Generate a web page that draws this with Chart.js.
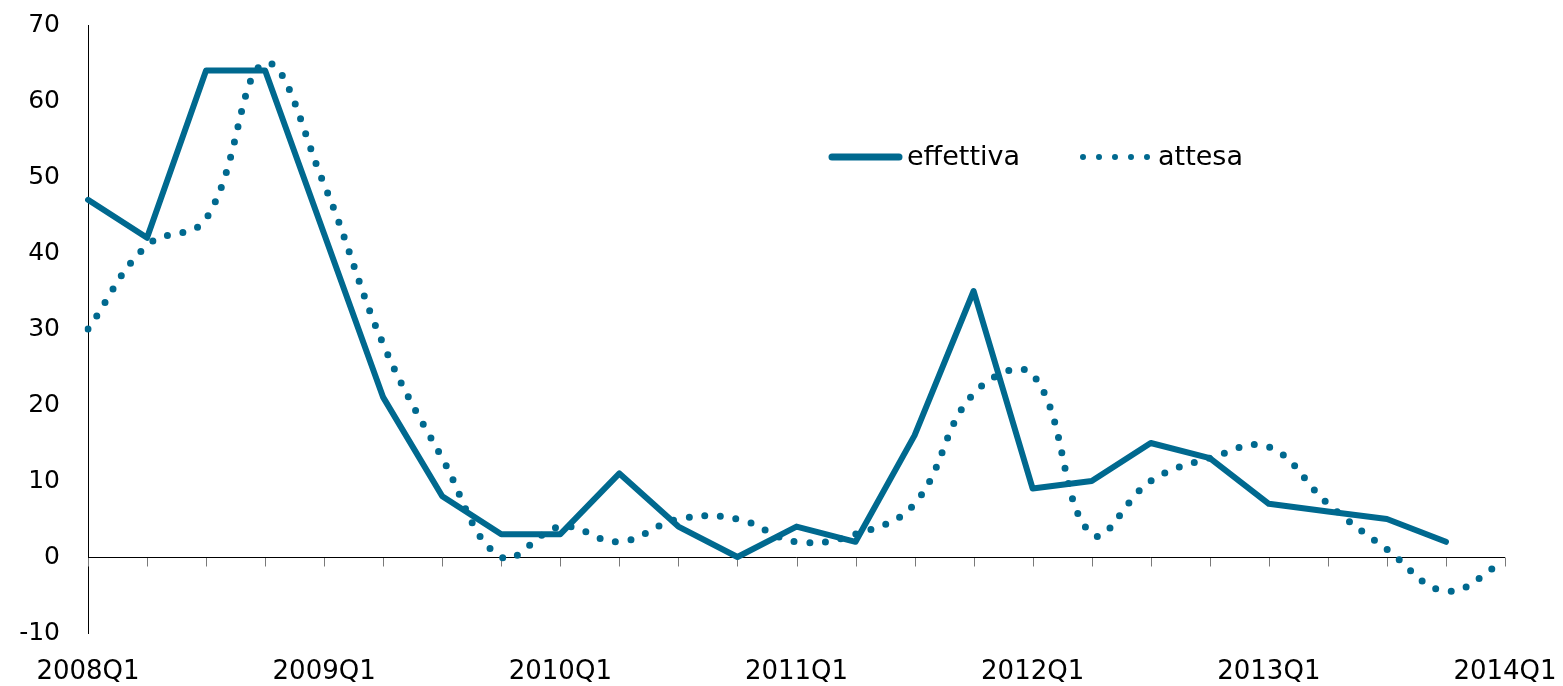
<!DOCTYPE html>
<html>
<head>
<meta charset="utf-8">
<title>effettiva / attesa</title>
<script src="https://cdn.jsdelivr.net/npm/chart.js@4.4.1/dist/chart.umd.min.js"></script>
<style>
  html, body { margin: 0; padding: 0; background: #ffffff; }
  #wrap { position: relative; width: 1563px; height: 686px; }
  canvas { display: block; }
</style>
</head>
<body>
<div id="wrap"><canvas id="chart" width="1563" height="686"></canvas></div>
<script>
// Quarterly categories
const quarters = [
  '2008Q1', '2008Q2', '2008Q3', '2008Q4',
  '2009Q1', '2009Q2', '2009Q3', '2009Q4',
  '2010Q1', '2010Q2', '2010Q3', '2010Q4',
  '2011Q1', '2011Q2', '2011Q3', '2011Q4',
  '2012Q1', '2012Q2', '2012Q3', '2012Q4',
  '2013Q1', '2013Q2', '2013Q3', '2013Q4',
  '2014Q1'
];

// Series values
const effettiva = [47, 42, 64, 64, 42.5, 21, 8, 3, 3, 11, 4, 0, 4, 2, 16, 35, 9, 10, 15, 13, 7, 6, 5, 2, null];
const attesa    = [30, 41, 44.5, 65, 49, 28, 13, 0, 4, 2, 5, 5, 2, 3, 7, 21.5, 24, 3, 10, 13, 14.5, 7, 1, -4.5, -0.5];

// Value axis range
const yMin = -10;
const yMax = 70;
const yStep = 10;

const seriesNames = ['effettiva', 'attesa'];
const teal = '#00698f';
const FONT = '"DejaVu Sans", "Liberation Sans", Arial, sans-serif';

// Horizontal axis line through zero, with a tick mark at every quarter
const zeroAxis = {
  id: 'zeroAxis',
  beforeDatasetsDraw(chart) {
    const { ctx, chartArea, scales } = chart;
    const y0 = Math.round(scales.y.getPixelForValue(0)) + 0.5;
    ctx.save();
    ctx.strokeStyle = '#7a7a7a';
    ctx.lineWidth = 1;
    quarters.forEach((q, i) => {
      const x = Math.round(scales.x.getPixelForValue(i)) + 0.5;
      ctx.beginPath();
      ctx.moveTo(x, y0);
      ctx.lineTo(x, y0 + 9);
      ctx.stroke();
    });
    ctx.strokeStyle = '#000000';
    ctx.beginPath();
    ctx.moveTo(chartArea.left, y0);
    ctx.lineTo(chartArea.right, y0);
    ctx.stroke();
    ctx.restore();
  }
};

// Legend placed inside the plot area
const innerLegend = {
  id: 'innerLegend',
  afterDraw(chart) {
    const { ctx, chartArea } = chart;
    const ds = chart.data.datasets;
    const y = chartArea.top + 132;
    const items = [
      { x: chartArea.left + 742, ds: ds[0] },
      { x: chartArea.left + 995, ds: ds[1] }
    ];
    ctx.save();
    ctx.font = '27px ' + FONT;
    ctx.textBaseline = 'middle';
    ctx.fillStyle = '#000000';
    items.forEach(it => {
      ctx.strokeStyle = it.ds.borderColor;
      ctx.lineCap = 'round';
      if (it.ds.borderDash && it.ds.borderDash.length) {
        ctx.lineWidth = 6;
        ctx.setLineDash([0, 16]);
        ctx.beginPath();
        ctx.moveTo(it.x, y);
        ctx.lineTo(it.x + 65, y);
        ctx.stroke();
        ctx.setLineDash([]);
        ctx.fillText(it.ds.label, it.x + 75, y + 1);
      } else {
        ctx.lineWidth = 7;
        ctx.beginPath();
        ctx.moveTo(it.x + 2, y);
        ctx.lineTo(it.x + 69, y);
        ctx.stroke();
        ctx.fillText(it.ds.label, it.x + 77, y + 1);
      }
    });
    ctx.restore();
  }
};

new Chart(document.getElementById('chart'), {
  type: 'line',
  data: {
    labels: quarters,
    datasets: [
      {
        label: seriesNames[0],
        data: effettiva,
        borderColor: teal,
        backgroundColor: teal,
        borderWidth: 6,
        borderCapStyle: 'round',
        borderJoinStyle: 'round',
        pointRadius: 0,
        tension: 0,
        fill: false
      },
      {
        label: seriesNames[1],
        data: attesa,
        borderColor: teal,
        backgroundColor: teal,
        borderWidth: 7,
        borderDash: [0, 15.7],
        borderCapStyle: 'round',
        borderJoinStyle: 'round',
        pointRadius: 0,
        tension: 0.4,
        fill: false
      }
    ]
  },
  options: {
    responsive: false,
    animation: false,
    events: [],
    layout: { padding: { top: 25, right: 58, bottom: 0, left: 0 } },
    plugins: {
      legend: { display: false },
      tooltip: { enabled: false }
    },
    scales: {
      x: {
        type: 'category',
        offset: false,
        grid: { display: false, drawTicks: false },
        border: { display: false },
        ticks: {
          autoSkip: false,
          maxRotation: 0,
          minRotation: 0,
          padding: 24,
          color: '#000000',
          font: { family: FONT, size: 26 },
          callback: function (value) {
            const lab = this.getLabelForValue(value);
            return lab.endsWith('Q1') ? lab : '';
          }
        },
        afterFit(scale) {
          scale.height = 53;
          scale.paddingLeft = 0;
          scale.paddingRight = 0;
        }
      },
      y: {
        min: yMin,
        max: yMax,
        grid: { display: false, drawTicks: false },
        border: { display: true, color: '#000000', width: 1 },
        ticks: {
          stepSize: yStep,
          padding: 28,
          color: '#000000',
          font: { family: FONT, size: 25 }
        },
        afterFit(scale) {
          scale.width = 88;
          scale.paddingTop = 0;
          scale.paddingBottom = 0;
        }
      }
    }
  },
  plugins: [zeroAxis, innerLegend]
});
</script>
</body>
</html>
